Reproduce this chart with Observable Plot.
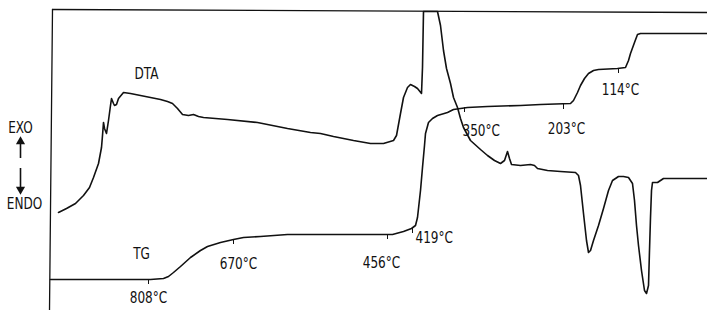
<!DOCTYPE html>
<html>
<head>
<meta charset="utf-8">
<script src="https://cdn.jsdelivr.net/npm/d3@7"></script>
<script src="https://cdn.jsdelivr.net/npm/@observablehq/plot@0.6"></script>
<style>
  html, body { margin: 0; padding: 0; background: #fff; }
  #chart svg { display: block; }
</style>
</head>
<body>
<div id="chart"></div>
<script>
// Recorder-chart coordinates: pos = horizontal chart position (scan), sig = pen deflection (up = larger)
const H = 310;

// DTA trace (pos, deflection read as chart-pixel row; converted below)
const dtaPos = [58,66,75,83,89,93,98,101,102,103,104,106,108,110,111,113,114,116,118,123,130,145,160,167,172,177,182,188,193,198,203,227,257,287,310,320,333,353,370,383,393,396,400,403,407,410,414,417,421,422,423,437,440,443,446,450,453,457,460,463,470,480,487,494,500,504,507,509,511,520,530,534,537,547,560,575,578,580,583,586,588,590,593,598,603,608,612,618,623,628,632,634,636,638,641,644,646,648,649,650,651,652,657,663,673,707];
const dtaRow = [212,208,203,195,187,177,163,147,135,122,128,133,120,105,98,103,105,104,98,92,93,96,99,101,103,108,114,115,114,116,117,119,122,128,132,133,136,140,143,143,140,135,113,97,87,84,86,88,93,67,11,11,25,50,68,83,97,107,118,127,140,149,155,160,163,160,151,158,164,165,164,165,168,170,171,172,175,185,213,240,252,250,240,225,208,190,180,176,176,177,183,200,225,245,270,290,293,285,250,217,190,182,182,178,178,178];

// TG trace
const tgPos = [50,100,150,163,168,173,180,190,200,207,220,233,243,260,287,353,392,403,411,415,417,420,422,424,425,428,432,437,447,453,467,487,520,540,570,573,577,580,584,588,593,598,617,625,628,630,634,637,640,707];
const tgRow = [279,279,279,278,276,272,266,257,250,246,242,239,237,236,234,234,234,231,228,225,217,190,167,145,133,122,118,115,112,109,107,106,105,104,103,100,92,85,78,73,70,69,68,67,60,53,42,34,33,33];

// Temperature marks on the TG trace
const tempLabels = ["808°C","670°C","456°C","419°C","350°C","203°C","114°C"];
const tempTickPos = [148,233,387,412,464,563,618];
const tempTickRow = [279,239,234,228,107,104,68];
const tempTextPos = [148,238,381,415,462,566,620];
const tempTextRow = [302,268,267,242,135,133,94];
const tempAnchor  = ["middle","middle","middle","start","start","middle","middle"];

// Curve names
const curveNames = ["DTA","TG"];
const curveNamePos = [146,141];
const curveNameRow = [78,258];

// Chart frame (left edge and top edge of recorder paper)
const frameLeftPos = [52,49], frameLeftRow = [9,310];
const frameTopPos = [52,707], frameTopRow = [9,12];

const sig = r => H - r;
const toPts = (xs, rs) => xs.map((x, i) => ({pos: x, sig: sig(rs[i])}));

const dta = toPts(dtaPos, dtaRow);
const tg = toPts(tgPos, tgRow);
const ticks = tempTickPos.map((x, i) => ({pos: x, y1: sig(tempTickRow[i]), y2: sig(tempTickRow[i] + 5)}));
const temps = tempLabels.map((t, i) => ({text: t, pos: tempTextPos[i], sig: sig(tempTextRow[i]), anchor: tempAnchor[i]}));
const names = curveNames.map((t, i) => ({text: t, pos: curveNamePos[i], sig: sig(curveNameRow[i])}));
const frameLeft = toPts(frameLeftPos, frameLeftRow);
const frameTop = toPts(frameTopPos, frameTopRow);

const font = "'DejaVu Sans Condensed', 'DejaVu Sans', sans-serif";
const ink = "#111";
const fs = 16;

const chart = Plot.plot({
  width: 707,
  height: 310,
  margin: 0,
  x: {domain: [0, 707], axis: null},
  y: {domain: [0, 310], axis: null},
  style: {fontFamily: font, background: "#fff"},
  marks: [
    Plot.line(frameLeft, {x: "pos", y: "sig", stroke: ink, strokeWidth: 1.3}),
    Plot.line(frameTop, {x: "pos", y: "sig", stroke: ink, strokeWidth: 1.3}),
    Plot.line(dta, {x: "pos", y: "sig", stroke: ink, strokeWidth: 1.6, curve: "linear"}),
    Plot.line(tg, {x: "pos", y: "sig", stroke: ink, strokeWidth: 1.6, curve: "linear"}),
    Plot.ruleX(ticks, {x: "pos", y1: "y1", y2: "y2", stroke: ink, strokeWidth: 1}),
    Plot.text(temps.filter(d => d.anchor === "middle"), {x: "pos", y: "sig", text: "text", textAnchor: "middle", lineAnchor: "bottom", fontSize: fs, fill: ink}),
    Plot.text(temps.filter(d => d.anchor === "start"), {x: "pos", y: "sig", text: "text", textAnchor: "start", lineAnchor: "bottom", fontSize: fs, fill: ink}),
    Plot.text(names, {x: "pos", y: "sig", text: "text", textAnchor: "middle", lineAnchor: "bottom", fontSize: fs, fill: ink}),
    // EXO / ENDO indicator
    Plot.text([{t: "EXO", pos: 20, sig: sig(132)}, {t: "ENDO", pos: 24, sig: sig(208)}], {x: "pos", y: "sig", text: "t", textAnchor: "middle", lineAnchor: "bottom", fontSize: fs, fill: ink}),
    Plot.ruleX([{pos: 20, a: sig(158), b: sig(142)}, {pos: 20, a: sig(168), b: sig(188)}], {x: "pos", y1: "a", y2: "b", stroke: ink, strokeWidth: 1.6}),
    Plot.dot([{pos: 20, sig: sig(141), r: 0}, {pos: 20, sig: sig(189), r: 180}], {x: "pos", y: "sig", symbol: "triangle", rotate: "r", r: 3.4, fill: ink, stroke: "none"})
  ]
});

// Narrow the lettering horizontally to match the plotter font
d3.select(chart).selectAll("g[aria-label=text] text").each(function () {
  const t = this.getAttribute("transform");
  if (t) {
    this.setAttribute("transform", t + " scale(0.84,1)");
  } else {
    const x = +this.getAttribute("x") || 0, y = +this.getAttribute("y") || 0;
    this.removeAttribute("x"); this.removeAttribute("y");
    this.setAttribute("transform", `translate(${x},${y}) scale(0.84,1)`);
  }
});

document.getElementById("chart").append(chart);
</script>
</body>
</html>
